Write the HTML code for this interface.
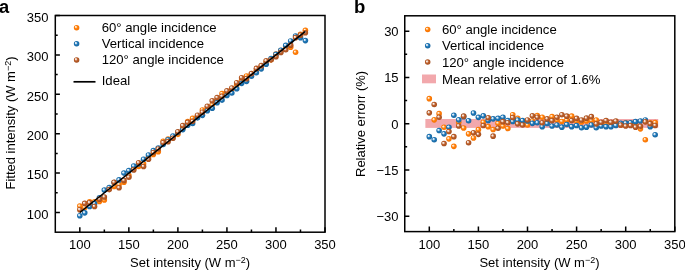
<!DOCTYPE html><html><head><meta charset="utf-8"><style>html,body{margin:0;padding:0;background:#fff;}svg{display:block;will-change:transform}</style></head><body>
<svg width="685" height="271" viewBox="0 0 685 271" style="font-family:'Liberation Sans',sans-serif">
<defs>
<radialGradient id="go" cx="50%" cy="50%" r="55%" fx="32%" fy="32%"><stop offset="0" stop-color="#ffffff"/><stop offset="0.22" stop-color="#ffd8b0"/><stop offset="0.5" stop-color="#ff800a"/><stop offset="1" stop-color="#f57000"/></radialGradient>
<radialGradient id="gb" cx="50%" cy="50%" r="55%" fx="32%" fy="32%"><stop offset="0" stop-color="#ffffff"/><stop offset="0.22" stop-color="#cfe3f3"/><stop offset="0.5" stop-color="#1f78b8"/><stop offset="1" stop-color="#17639c"/></radialGradient>
<radialGradient id="gr" cx="50%" cy="50%" r="55%" fx="32%" fy="32%"><stop offset="0" stop-color="#ffffff"/><stop offset="0.22" stop-color="#efd8ca"/><stop offset="0.5" stop-color="#bd5e2a"/><stop offset="1" stop-color="#a04c1c"/></radialGradient>
</defs>
<circle cx="79.82" cy="206.10" r="2.8" fill="url(#go)"/>
<circle cx="84.72" cy="207.53" r="2.8" fill="url(#go)"/>
<circle cx="89.63" cy="201.79" r="2.8" fill="url(#go)"/>
<circle cx="94.53" cy="201.72" r="2.8" fill="url(#go)"/>
<circle cx="99.43" cy="201.39" r="2.8" fill="url(#go)"/>
<circle cx="104.34" cy="200.04" r="2.8" fill="url(#go)"/>
<circle cx="109.24" cy="188.38" r="2.8" fill="url(#go)"/>
<circle cx="114.14" cy="186.39" r="2.8" fill="url(#go)"/>
<circle cx="119.05" cy="184.61" r="2.8" fill="url(#go)"/>
<circle cx="123.95" cy="182.32" r="2.8" fill="url(#go)"/>
<circle cx="128.85" cy="175.38" r="2.8" fill="url(#go)"/>
<circle cx="133.76" cy="168.59" r="2.8" fill="url(#go)"/>
<circle cx="138.66" cy="166.43" r="2.8" fill="url(#go)"/>
<circle cx="143.57" cy="163.75" r="2.8" fill="url(#go)"/>
<circle cx="148.47" cy="157.19" r="2.8" fill="url(#go)"/>
<circle cx="153.37" cy="154.45" r="2.8" fill="url(#go)"/>
<circle cx="158.28" cy="151.69" r="2.8" fill="url(#go)"/>
<circle cx="163.18" cy="141.29" r="2.8" fill="url(#go)"/>
<circle cx="168.08" cy="138.98" r="2.8" fill="url(#go)"/>
<circle cx="172.99" cy="136.82" r="2.8" fill="url(#go)"/>
<circle cx="177.89" cy="134.34" r="2.8" fill="url(#go)"/>
<circle cx="182.79" cy="128.37" r="2.8" fill="url(#go)"/>
<circle cx="187.70" cy="121.45" r="2.8" fill="url(#go)"/>
<circle cx="192.60" cy="118.34" r="2.8" fill="url(#go)"/>
<circle cx="197.51" cy="116.45" r="2.8" fill="url(#go)"/>
<circle cx="202.41" cy="109.95" r="2.8" fill="url(#go)"/>
<circle cx="207.31" cy="107.91" r="2.8" fill="url(#go)"/>
<circle cx="212.22" cy="104.77" r="2.8" fill="url(#go)"/>
<circle cx="217.12" cy="99.94" r="2.8" fill="url(#go)"/>
<circle cx="222.02" cy="93.51" r="2.8" fill="url(#go)"/>
<circle cx="226.93" cy="92.61" r="2.8" fill="url(#go)"/>
<circle cx="231.83" cy="89.28" r="2.8" fill="url(#go)"/>
<circle cx="236.73" cy="84.66" r="2.8" fill="url(#go)"/>
<circle cx="241.64" cy="80.35" r="2.8" fill="url(#go)"/>
<circle cx="246.54" cy="76.02" r="2.8" fill="url(#go)"/>
<circle cx="251.45" cy="74.14" r="2.8" fill="url(#go)"/>
<circle cx="256.35" cy="70.19" r="2.8" fill="url(#go)"/>
<circle cx="261.25" cy="66.25" r="2.8" fill="url(#go)"/>
<circle cx="266.16" cy="62.30" r="2.8" fill="url(#go)"/>
<circle cx="271.06" cy="59.86" r="2.8" fill="url(#go)"/>
<circle cx="275.96" cy="54.17" r="2.8" fill="url(#go)"/>
<circle cx="280.87" cy="50.45" r="2.8" fill="url(#go)"/>
<circle cx="285.77" cy="46.50" r="2.8" fill="url(#go)"/>
<circle cx="290.67" cy="47.23" r="2.8" fill="url(#go)"/>
<circle cx="295.58" cy="52.27" r="2.8" fill="url(#go)"/>
<circle cx="300.48" cy="34.41" r="2.8" fill="url(#go)"/>
<circle cx="305.39" cy="30.37" r="2.8" fill="url(#go)"/>
<circle cx="79.82" cy="215.81" r="2.8" fill="url(#gb)"/>
<circle cx="84.72" cy="212.87" r="2.8" fill="url(#gb)"/>
<circle cx="89.63" cy="206.55" r="2.8" fill="url(#gb)"/>
<circle cx="94.53" cy="203.66" r="2.8" fill="url(#gb)"/>
<circle cx="99.43" cy="197.83" r="2.8" fill="url(#gb)"/>
<circle cx="104.34" cy="190.10" r="2.8" fill="url(#gb)"/>
<circle cx="109.24" cy="187.58" r="2.8" fill="url(#gb)"/>
<circle cx="114.14" cy="182.49" r="2.8" fill="url(#gb)"/>
<circle cx="119.05" cy="179.92" r="2.8" fill="url(#gb)"/>
<circle cx="123.95" cy="173.09" r="2.8" fill="url(#gb)"/>
<circle cx="128.85" cy="170.67" r="2.8" fill="url(#gb)"/>
<circle cx="133.76" cy="166.05" r="2.8" fill="url(#gb)"/>
<circle cx="138.66" cy="163.93" r="2.8" fill="url(#gb)"/>
<circle cx="143.57" cy="159.23" r="2.8" fill="url(#gb)"/>
<circle cx="148.47" cy="155.02" r="2.8" fill="url(#gb)"/>
<circle cx="153.37" cy="150.51" r="2.8" fill="url(#gb)"/>
<circle cx="158.28" cy="148.01" r="2.8" fill="url(#gb)"/>
<circle cx="163.18" cy="144.50" r="2.8" fill="url(#gb)"/>
<circle cx="168.08" cy="139.81" r="2.8" fill="url(#gb)"/>
<circle cx="172.99" cy="136.07" r="2.8" fill="url(#gb)"/>
<circle cx="177.89" cy="132.35" r="2.8" fill="url(#gb)"/>
<circle cx="182.79" cy="129.58" r="2.8" fill="url(#gb)"/>
<circle cx="187.70" cy="125.31" r="2.8" fill="url(#gb)"/>
<circle cx="192.60" cy="123.50" r="2.8" fill="url(#gb)"/>
<circle cx="197.51" cy="117.86" r="2.8" fill="url(#gb)"/>
<circle cx="202.41" cy="115.35" r="2.8" fill="url(#gb)"/>
<circle cx="207.31" cy="110.79" r="2.8" fill="url(#gb)"/>
<circle cx="212.22" cy="108.19" r="2.8" fill="url(#gb)"/>
<circle cx="217.12" cy="102.64" r="2.8" fill="url(#gb)"/>
<circle cx="222.02" cy="100.09" r="2.8" fill="url(#gb)"/>
<circle cx="226.93" cy="95.48" r="2.8" fill="url(#gb)"/>
<circle cx="231.83" cy="93.00" r="2.8" fill="url(#gb)"/>
<circle cx="236.73" cy="88.71" r="2.8" fill="url(#gb)"/>
<circle cx="241.64" cy="83.33" r="2.8" fill="url(#gb)"/>
<circle cx="246.54" cy="81.33" r="2.8" fill="url(#gb)"/>
<circle cx="251.45" cy="76.25" r="2.8" fill="url(#gb)"/>
<circle cx="256.35" cy="72.77" r="2.8" fill="url(#gb)"/>
<circle cx="261.25" cy="68.87" r="2.8" fill="url(#gb)"/>
<circle cx="266.16" cy="64.15" r="2.8" fill="url(#gb)"/>
<circle cx="271.06" cy="58.58" r="2.8" fill="url(#gb)"/>
<circle cx="275.96" cy="54.40" r="2.8" fill="url(#gb)"/>
<circle cx="280.87" cy="50.22" r="2.8" fill="url(#gb)"/>
<circle cx="285.77" cy="45.40" r="2.8" fill="url(#gb)"/>
<circle cx="290.67" cy="40.95" r="2.8" fill="url(#gb)"/>
<circle cx="295.58" cy="36.07" r="2.8" fill="url(#gb)"/>
<circle cx="300.48" cy="37.65" r="2.8" fill="url(#gb)"/>
<circle cx="305.39" cy="40.58" r="2.8" fill="url(#gb)"/>
<circle cx="79.82" cy="209.73" r="2.8" fill="url(#gr)"/>
<circle cx="84.72" cy="203.39" r="2.8" fill="url(#gr)"/>
<circle cx="89.63" cy="202.81" r="2.8" fill="url(#gr)"/>
<circle cx="94.53" cy="206.51" r="2.8" fill="url(#gr)"/>
<circle cx="99.43" cy="199.15" r="2.8" fill="url(#gr)"/>
<circle cx="104.34" cy="196.94" r="2.8" fill="url(#gr)"/>
<circle cx="109.24" cy="189.61" r="2.8" fill="url(#gr)"/>
<circle cx="114.14" cy="182.31" r="2.8" fill="url(#gr)"/>
<circle cx="119.05" cy="187.80" r="2.8" fill="url(#gr)"/>
<circle cx="123.95" cy="180.39" r="2.8" fill="url(#gr)"/>
<circle cx="128.85" cy="177.18" r="2.8" fill="url(#gr)"/>
<circle cx="133.76" cy="169.89" r="2.8" fill="url(#gr)"/>
<circle cx="138.66" cy="162.79" r="2.8" fill="url(#gr)"/>
<circle cx="143.57" cy="166.53" r="2.8" fill="url(#gr)"/>
<circle cx="148.47" cy="159.32" r="2.8" fill="url(#gr)"/>
<circle cx="153.37" cy="152.48" r="2.8" fill="url(#gr)"/>
<circle cx="158.28" cy="149.02" r="2.8" fill="url(#gr)"/>
<circle cx="163.18" cy="142.61" r="2.8" fill="url(#gr)"/>
<circle cx="168.08" cy="141.65" r="2.8" fill="url(#gr)"/>
<circle cx="172.99" cy="138.26" r="2.8" fill="url(#gr)"/>
<circle cx="177.89" cy="131.78" r="2.8" fill="url(#gr)"/>
<circle cx="182.79" cy="125.65" r="2.8" fill="url(#gr)"/>
<circle cx="187.70" cy="122.36" r="2.8" fill="url(#gr)"/>
<circle cx="192.60" cy="121.36" r="2.8" fill="url(#gr)"/>
<circle cx="197.51" cy="115.21" r="2.8" fill="url(#gr)"/>
<circle cx="202.41" cy="112.19" r="2.8" fill="url(#gr)"/>
<circle cx="207.31" cy="106.27" r="2.8" fill="url(#gr)"/>
<circle cx="212.22" cy="100.74" r="2.8" fill="url(#gr)"/>
<circle cx="217.12" cy="97.55" r="2.8" fill="url(#gr)"/>
<circle cx="222.02" cy="96.27" r="2.8" fill="url(#gr)"/>
<circle cx="226.93" cy="90.88" r="2.8" fill="url(#gr)"/>
<circle cx="231.83" cy="87.98" r="2.8" fill="url(#gr)"/>
<circle cx="236.73" cy="82.73" r="2.8" fill="url(#gr)"/>
<circle cx="241.64" cy="77.70" r="2.8" fill="url(#gr)"/>
<circle cx="246.54" cy="78.64" r="2.8" fill="url(#gr)"/>
<circle cx="251.45" cy="73.58" r="2.8" fill="url(#gr)"/>
<circle cx="256.35" cy="68.41" r="2.8" fill="url(#gr)"/>
<circle cx="261.25" cy="65.66" r="2.8" fill="url(#gr)"/>
<circle cx="266.16" cy="60.82" r="2.8" fill="url(#gr)"/>
<circle cx="271.06" cy="59.86" r="2.8" fill="url(#gr)"/>
<circle cx="275.96" cy="56.70" r="2.8" fill="url(#gr)"/>
<circle cx="280.87" cy="52.40" r="2.8" fill="url(#gr)"/>
<circle cx="285.77" cy="49.75" r="2.8" fill="url(#gr)"/>
<circle cx="290.67" cy="45.13" r="2.8" fill="url(#gr)"/>
<circle cx="295.58" cy="37.63" r="2.8" fill="url(#gr)"/>
<circle cx="300.48" cy="35.16" r="2.8" fill="url(#gr)"/>
<circle cx="305.39" cy="32.74" r="2.8" fill="url(#gr)"/>
<line x1="79.82" y1="212.50" x2="305.39" y2="31.26" stroke="#000" stroke-width="1.6"/>
<rect x="55.3" y="15.5" width="269.70" height="216.70" fill="none" stroke="#000" stroke-width="1.5"/>
<path d="M79.82 232.2v-5 M128.85 232.2v-5 M177.89 232.2v-5 M226.93 232.2v-5 M275.96 232.2v-5 M325.00 232.2v-5 M104.34 232.2v-2.6 M153.37 232.2v-2.6 M202.41 232.2v-2.6 M251.45 232.2v-2.6 M300.48 232.2v-2.6 M55.3 212.50h4.6 M55.3 173.10h4.6 M55.3 133.70h4.6 M55.3 94.30h4.6 M55.3 54.90h4.6 M55.3 15.50h4.6 M55.3 192.80h2.4 M55.3 153.40h2.4 M55.3 114.00h2.4 M55.3 74.60h2.4 M55.3 35.20h2.4" stroke="#000" stroke-width="1.5" fill="none"/>
<text x="79.82" y="248.5" font-size="13" text-anchor="middle">100</text>
<text x="128.85" y="248.5" font-size="13" text-anchor="middle">150</text>
<text x="177.89" y="248.5" font-size="13" text-anchor="middle">200</text>
<text x="226.93" y="248.5" font-size="13" text-anchor="middle">250</text>
<text x="275.96" y="248.5" font-size="13" text-anchor="middle">300</text>
<text x="325.00" y="248.5" font-size="13" text-anchor="middle">350</text>
<text x="48.5" y="218.70" font-size="13" text-anchor="end">100</text>
<text x="48.5" y="179.30" font-size="13" text-anchor="end">150</text>
<text x="48.5" y="139.90" font-size="13" text-anchor="end">200</text>
<text x="48.5" y="100.50" font-size="13" text-anchor="end">250</text>
<text x="48.5" y="61.10" font-size="13" text-anchor="end">300</text>
<text x="48.5" y="21.70" font-size="13" text-anchor="end">350</text>
<text x="190.15" y="267.3" font-size="13" text-anchor="middle">Set intensity (W m<tspan font-size="9" dy="-4.1">−2</tspan><tspan dy="4.1">)</tspan></text>
<text transform="translate(14.8,123) rotate(-90)" x="0" y="0" font-size="13" text-anchor="middle">Fitted intensity (W m<tspan font-size="9" dy="-4.1">−2</tspan><tspan dy="4.1">)</tspan></text>
<text x="-0.9" y="13.2" font-size="18.3" font-weight="bold">a</text>
<circle cx="76.60" cy="27.70" r="2.75" fill="url(#go)"/>
<text x="101.7" y="32.2" font-size="13.15">60° angle incidence</text>
<circle cx="76.60" cy="43.80" r="2.75" fill="url(#gb)"/>
<text x="101.7" y="48.0" font-size="13.15">Vertical incidence</text>
<circle cx="76.60" cy="59.90" r="2.75" fill="url(#gr)"/>
<text x="101.7" y="64.0" font-size="13.15">120° angle incidence</text>
<line x1="73.5" y1="81.8" x2="95.5" y2="81.8" stroke="#000" stroke-width="1.7"/>
<text x="101.7" y="85.1" font-size="13.15">Ideal</text>
<rect x="425.37" y="119" width="232.83" height="8.9" fill="#f2a8ac"/>
<circle cx="429.30" cy="98.65" r="2.8" fill="url(#go)"/>
<circle cx="434.21" cy="119.85" r="2.8" fill="url(#go)"/>
<circle cx="439.12" cy="113.65" r="2.8" fill="url(#go)"/>
<circle cx="444.03" cy="127.25" r="2.8" fill="url(#go)"/>
<circle cx="448.94" cy="138.85" r="2.8" fill="url(#go)"/>
<circle cx="453.85" cy="146.35" r="2.8" fill="url(#go)"/>
<circle cx="458.76" cy="122.25" r="2.8" fill="url(#go)"/>
<circle cx="463.67" cy="127.95" r="2.8" fill="url(#go)"/>
<circle cx="468.58" cy="133.85" r="2.8" fill="url(#go)"/>
<circle cx="473.49" cy="137.95" r="2.8" fill="url(#go)"/>
<circle cx="478.40" cy="129.65" r="2.8" fill="url(#go)"/>
<circle cx="483.31" cy="122.25" r="2.8" fill="url(#go)"/>
<circle cx="488.22" cy="126.65" r="2.8" fill="url(#go)"/>
<circle cx="493.13" cy="129.55" r="2.8" fill="url(#go)"/>
<circle cx="498.04" cy="123.35" r="2.8" fill="url(#go)"/>
<circle cx="502.95" cy="126.05" r="2.8" fill="url(#go)"/>
<circle cx="507.86" cy="128.55" r="2.8" fill="url(#go)"/>
<circle cx="512.77" cy="114.75" r="2.8" fill="url(#go)"/>
<circle cx="517.68" cy="118.35" r="2.8" fill="url(#go)"/>
<circle cx="522.59" cy="122.05" r="2.8" fill="url(#go)"/>
<circle cx="527.50" cy="124.95" r="2.8" fill="url(#go)"/>
<circle cx="532.41" cy="121.05" r="2.8" fill="url(#go)"/>
<circle cx="537.32" cy="115.55" r="2.8" fill="url(#go)"/>
<circle cx="542.23" cy="117.25" r="2.8" fill="url(#go)"/>
<circle cx="547.14" cy="121.05" r="2.8" fill="url(#go)"/>
<circle cx="552.05" cy="116.65" r="2.8" fill="url(#go)"/>
<circle cx="556.96" cy="120.05" r="2.8" fill="url(#go)"/>
<circle cx="561.87" cy="121.45" r="2.8" fill="url(#go)"/>
<circle cx="566.78" cy="120.05" r="2.8" fill="url(#go)"/>
<circle cx="571.69" cy="116.15" r="2.8" fill="url(#go)"/>
<circle cx="576.60" cy="121.05" r="2.8" fill="url(#go)"/>
<circle cx="581.51" cy="122.05" r="2.8" fill="url(#go)"/>
<circle cx="586.42" cy="121.05" r="2.8" fill="url(#go)"/>
<circle cx="591.33" cy="120.55" r="2.8" fill="url(#go)"/>
<circle cx="596.24" cy="120.05" r="2.8" fill="url(#go)"/>
<circle cx="601.15" cy="123.05" r="2.8" fill="url(#go)"/>
<circle cx="606.06" cy="123.05" r="2.8" fill="url(#go)"/>
<circle cx="610.97" cy="123.05" r="2.8" fill="url(#go)"/>
<circle cx="615.88" cy="123.05" r="2.8" fill="url(#go)"/>
<circle cx="620.79" cy="125.05" r="2.8" fill="url(#go)"/>
<circle cx="625.70" cy="122.75" r="2.8" fill="url(#go)"/>
<circle cx="630.61" cy="123.05" r="2.8" fill="url(#go)"/>
<circle cx="635.52" cy="123.05" r="2.8" fill="url(#go)"/>
<circle cx="640.43" cy="128.85" r="2.8" fill="url(#go)"/>
<circle cx="645.34" cy="139.75" r="2.8" fill="url(#go)"/>
<circle cx="650.25" cy="122.75" r="2.8" fill="url(#go)"/>
<circle cx="655.16" cy="122.65" r="2.8" fill="url(#go)"/>
<circle cx="429.30" cy="136.65" r="2.8" fill="url(#gb)"/>
<circle cx="434.21" cy="139.75" r="2.8" fill="url(#gb)"/>
<circle cx="439.12" cy="130.55" r="2.8" fill="url(#gb)"/>
<circle cx="444.03" cy="133.85" r="2.8" fill="url(#gb)"/>
<circle cx="448.94" cy="127.25" r="2.8" fill="url(#gb)"/>
<circle cx="453.85" cy="115.25" r="2.8" fill="url(#gb)"/>
<circle cx="458.76" cy="119.85" r="2.8" fill="url(#gb)"/>
<circle cx="463.67" cy="116.65" r="2.8" fill="url(#gb)"/>
<circle cx="468.58" cy="120.75" r="2.8" fill="url(#gb)"/>
<circle cx="473.49" cy="113.05" r="2.8" fill="url(#gb)"/>
<circle cx="478.40" cy="117.35" r="2.8" fill="url(#gb)"/>
<circle cx="483.31" cy="115.85" r="2.8" fill="url(#gb)"/>
<circle cx="488.22" cy="120.55" r="2.8" fill="url(#gb)"/>
<circle cx="493.13" cy="118.85" r="2.8" fill="url(#gb)"/>
<circle cx="498.04" cy="118.35" r="2.8" fill="url(#gb)"/>
<circle cx="502.95" cy="117.25" r="2.8" fill="url(#gb)"/>
<circle cx="507.86" cy="120.55" r="2.8" fill="url(#gb)"/>
<circle cx="512.77" cy="121.55" r="2.8" fill="url(#gb)"/>
<circle cx="517.68" cy="120.05" r="2.8" fill="url(#gb)"/>
<circle cx="522.59" cy="120.55" r="2.8" fill="url(#gb)"/>
<circle cx="527.50" cy="121.05" r="2.8" fill="url(#gb)"/>
<circle cx="532.41" cy="123.35" r="2.8" fill="url(#gb)"/>
<circle cx="537.32" cy="122.75" r="2.8" fill="url(#gb)"/>
<circle cx="542.23" cy="126.65" r="2.8" fill="url(#gb)"/>
<circle cx="547.14" cy="123.55" r="2.8" fill="url(#gb)"/>
<circle cx="552.05" cy="126.05" r="2.8" fill="url(#gb)"/>
<circle cx="556.96" cy="124.95" r="2.8" fill="url(#gb)"/>
<circle cx="561.87" cy="127.15" r="2.8" fill="url(#gb)"/>
<circle cx="566.78" cy="124.45" r="2.8" fill="url(#gb)"/>
<circle cx="571.69" cy="126.65" r="2.8" fill="url(#gb)"/>
<circle cx="576.60" cy="125.55" r="2.8" fill="url(#gb)"/>
<circle cx="581.51" cy="127.75" r="2.8" fill="url(#gb)"/>
<circle cx="586.42" cy="127.15" r="2.8" fill="url(#gb)"/>
<circle cx="591.33" cy="124.95" r="2.8" fill="url(#gb)"/>
<circle cx="596.24" cy="127.75" r="2.8" fill="url(#gb)"/>
<circle cx="601.15" cy="126.05" r="2.8" fill="url(#gb)"/>
<circle cx="606.06" cy="126.65" r="2.8" fill="url(#gb)"/>
<circle cx="610.97" cy="126.65" r="2.8" fill="url(#gb)"/>
<circle cx="615.88" cy="125.55" r="2.8" fill="url(#gb)"/>
<circle cx="620.79" cy="123.35" r="2.8" fill="url(#gb)"/>
<circle cx="625.70" cy="123.05" r="2.8" fill="url(#gb)"/>
<circle cx="630.61" cy="122.75" r="2.8" fill="url(#gb)"/>
<circle cx="635.52" cy="121.65" r="2.8" fill="url(#gb)"/>
<circle cx="640.43" cy="121.05" r="2.8" fill="url(#gb)"/>
<circle cx="645.34" cy="119.95" r="2.8" fill="url(#gb)"/>
<circle cx="650.25" cy="126.65" r="2.8" fill="url(#gb)"/>
<circle cx="655.16" cy="134.75" r="2.8" fill="url(#gb)"/>
<circle cx="429.30" cy="112.85" r="2.8" fill="url(#gr)"/>
<circle cx="434.21" cy="104.45" r="2.8" fill="url(#gr)"/>
<circle cx="439.12" cy="117.25" r="2.8" fill="url(#gr)"/>
<circle cx="444.03" cy="143.55" r="2.8" fill="url(#gr)"/>
<circle cx="448.94" cy="131.55" r="2.8" fill="url(#gr)"/>
<circle cx="453.85" cy="136.65" r="2.8" fill="url(#gr)"/>
<circle cx="458.76" cy="125.95" r="2.8" fill="url(#gr)"/>
<circle cx="463.67" cy="116.15" r="2.8" fill="url(#gr)"/>
<circle cx="468.58" cy="142.75" r="2.8" fill="url(#gr)"/>
<circle cx="473.49" cy="132.75" r="2.8" fill="url(#gr)"/>
<circle cx="478.40" cy="134.35" r="2.8" fill="url(#gr)"/>
<circle cx="483.31" cy="125.55" r="2.8" fill="url(#gr)"/>
<circle cx="488.22" cy="117.75" r="2.8" fill="url(#gr)"/>
<circle cx="493.13" cy="136.15" r="2.8" fill="url(#gr)"/>
<circle cx="498.04" cy="128.25" r="2.8" fill="url(#gr)"/>
<circle cx="502.95" cy="121.65" r="2.8" fill="url(#gr)"/>
<circle cx="507.86" cy="122.75" r="2.8" fill="url(#gr)"/>
<circle cx="512.77" cy="117.55" r="2.8" fill="url(#gr)"/>
<circle cx="517.68" cy="123.85" r="2.8" fill="url(#gr)"/>
<circle cx="522.59" cy="124.95" r="2.8" fill="url(#gr)"/>
<circle cx="527.50" cy="119.95" r="2.8" fill="url(#gr)"/>
<circle cx="532.41" cy="115.85" r="2.8" fill="url(#gr)"/>
<circle cx="537.32" cy="117.25" r="2.8" fill="url(#gr)"/>
<circle cx="542.23" cy="122.75" r="2.8" fill="url(#gr)"/>
<circle cx="547.14" cy="118.85" r="2.8" fill="url(#gr)"/>
<circle cx="552.05" cy="120.55" r="2.8" fill="url(#gr)"/>
<circle cx="556.96" cy="117.25" r="2.8" fill="url(#gr)"/>
<circle cx="561.87" cy="114.75" r="2.8" fill="url(#gr)"/>
<circle cx="566.78" cy="116.15" r="2.8" fill="url(#gr)"/>
<circle cx="571.69" cy="120.55" r="2.8" fill="url(#gr)"/>
<circle cx="576.60" cy="118.35" r="2.8" fill="url(#gr)"/>
<circle cx="581.51" cy="120.05" r="2.8" fill="url(#gr)"/>
<circle cx="586.42" cy="118.15" r="2.8" fill="url(#gr)"/>
<circle cx="591.33" cy="116.65" r="2.8" fill="url(#gr)"/>
<circle cx="596.24" cy="123.85" r="2.8" fill="url(#gr)"/>
<circle cx="601.15" cy="122.25" r="2.8" fill="url(#gr)"/>
<circle cx="606.06" cy="120.55" r="2.8" fill="url(#gr)"/>
<circle cx="610.97" cy="122.25" r="2.8" fill="url(#gr)"/>
<circle cx="615.88" cy="121.05" r="2.8" fill="url(#gr)"/>
<circle cx="620.79" cy="125.05" r="2.8" fill="url(#gr)"/>
<circle cx="625.70" cy="126.05" r="2.8" fill="url(#gr)"/>
<circle cx="630.61" cy="125.55" r="2.8" fill="url(#gr)"/>
<circle cx="635.52" cy="127.15" r="2.8" fill="url(#gr)"/>
<circle cx="640.43" cy="126.25" r="2.8" fill="url(#gr)"/>
<circle cx="645.34" cy="121.85" r="2.8" fill="url(#gr)"/>
<circle cx="650.25" cy="123.65" r="2.8" fill="url(#gr)"/>
<circle cx="655.16" cy="125.45" r="2.8" fill="url(#gr)"/>
<rect x="404.75" y="15.8" width="270.05" height="215.80" fill="none" stroke="#000" stroke-width="1.5"/>
<path d="M429.30 231.6v-5 M478.40 231.6v-5 M527.50 231.6v-5 M576.60 231.6v-5 M625.70 231.6v-5 M674.80 231.6v-5 M453.85 231.6v-2.6 M502.95 231.6v-2.6 M552.05 231.6v-2.6 M601.15 231.6v-2.6 M650.25 231.6v-2.6 M404.75 216.19h4.6 M404.75 169.94h4.6 M404.75 123.70h4.6 M404.75 77.46h4.6 M404.75 31.21h4.6 M404.75 193.06h2.4 M404.75 146.82h2.4 M404.75 100.58h2.4 M404.75 54.34h2.4" stroke="#000" stroke-width="1.5" fill="none"/>
<text x="429.30" y="248.5" font-size="13" text-anchor="middle">100</text>
<text x="478.40" y="248.5" font-size="13" text-anchor="middle">150</text>
<text x="527.50" y="248.5" font-size="13" text-anchor="middle">200</text>
<text x="576.60" y="248.5" font-size="13" text-anchor="middle">250</text>
<text x="625.70" y="248.5" font-size="13" text-anchor="middle">300</text>
<text x="674.80" y="248.5" font-size="13" text-anchor="middle">350</text>
<text x="398.6" y="221.09" font-size="13" text-anchor="end">−30</text>
<text x="398.6" y="174.84" font-size="13" text-anchor="end">−15</text>
<text x="398.6" y="128.60" font-size="13" text-anchor="end">0</text>
<text x="398.6" y="82.36" font-size="13" text-anchor="end">15</text>
<text x="398.6" y="36.11" font-size="13" text-anchor="end">30</text>
<text x="539.5" y="267.3" font-size="13" text-anchor="middle">Set intensity (W m<tspan font-size="9" dy="-4.1">−2</tspan><tspan dy="4.1">)</tspan></text>
<text transform="translate(364.8,123.9) rotate(-90)" x="0" y="0" font-size="13" text-anchor="middle">Relative errorr (%)</text>
<text x="353.9" y="13.3" font-size="18.5" font-weight="bold">b</text>
<circle cx="427.70" cy="29.40" r="2.75" fill="url(#go)"/>
<text x="441.9" y="33.8" font-size="13.15">60° angle incidence</text>
<circle cx="427.70" cy="45.70" r="2.75" fill="url(#gb)"/>
<text x="441.9" y="50.1" font-size="13.15">Vertical incidence</text>
<circle cx="427.70" cy="62.10" r="2.75" fill="url(#gr)"/>
<text x="441.9" y="66.8" font-size="13.15">120° angle incidence</text>
<rect x="422" y="74.5" width="14" height="8.8" fill="#f2a8ac"/>
<text x="442.0" y="83.7" font-size="13.15">Mean relative error of 1.6%</text>
</svg></body></html>
